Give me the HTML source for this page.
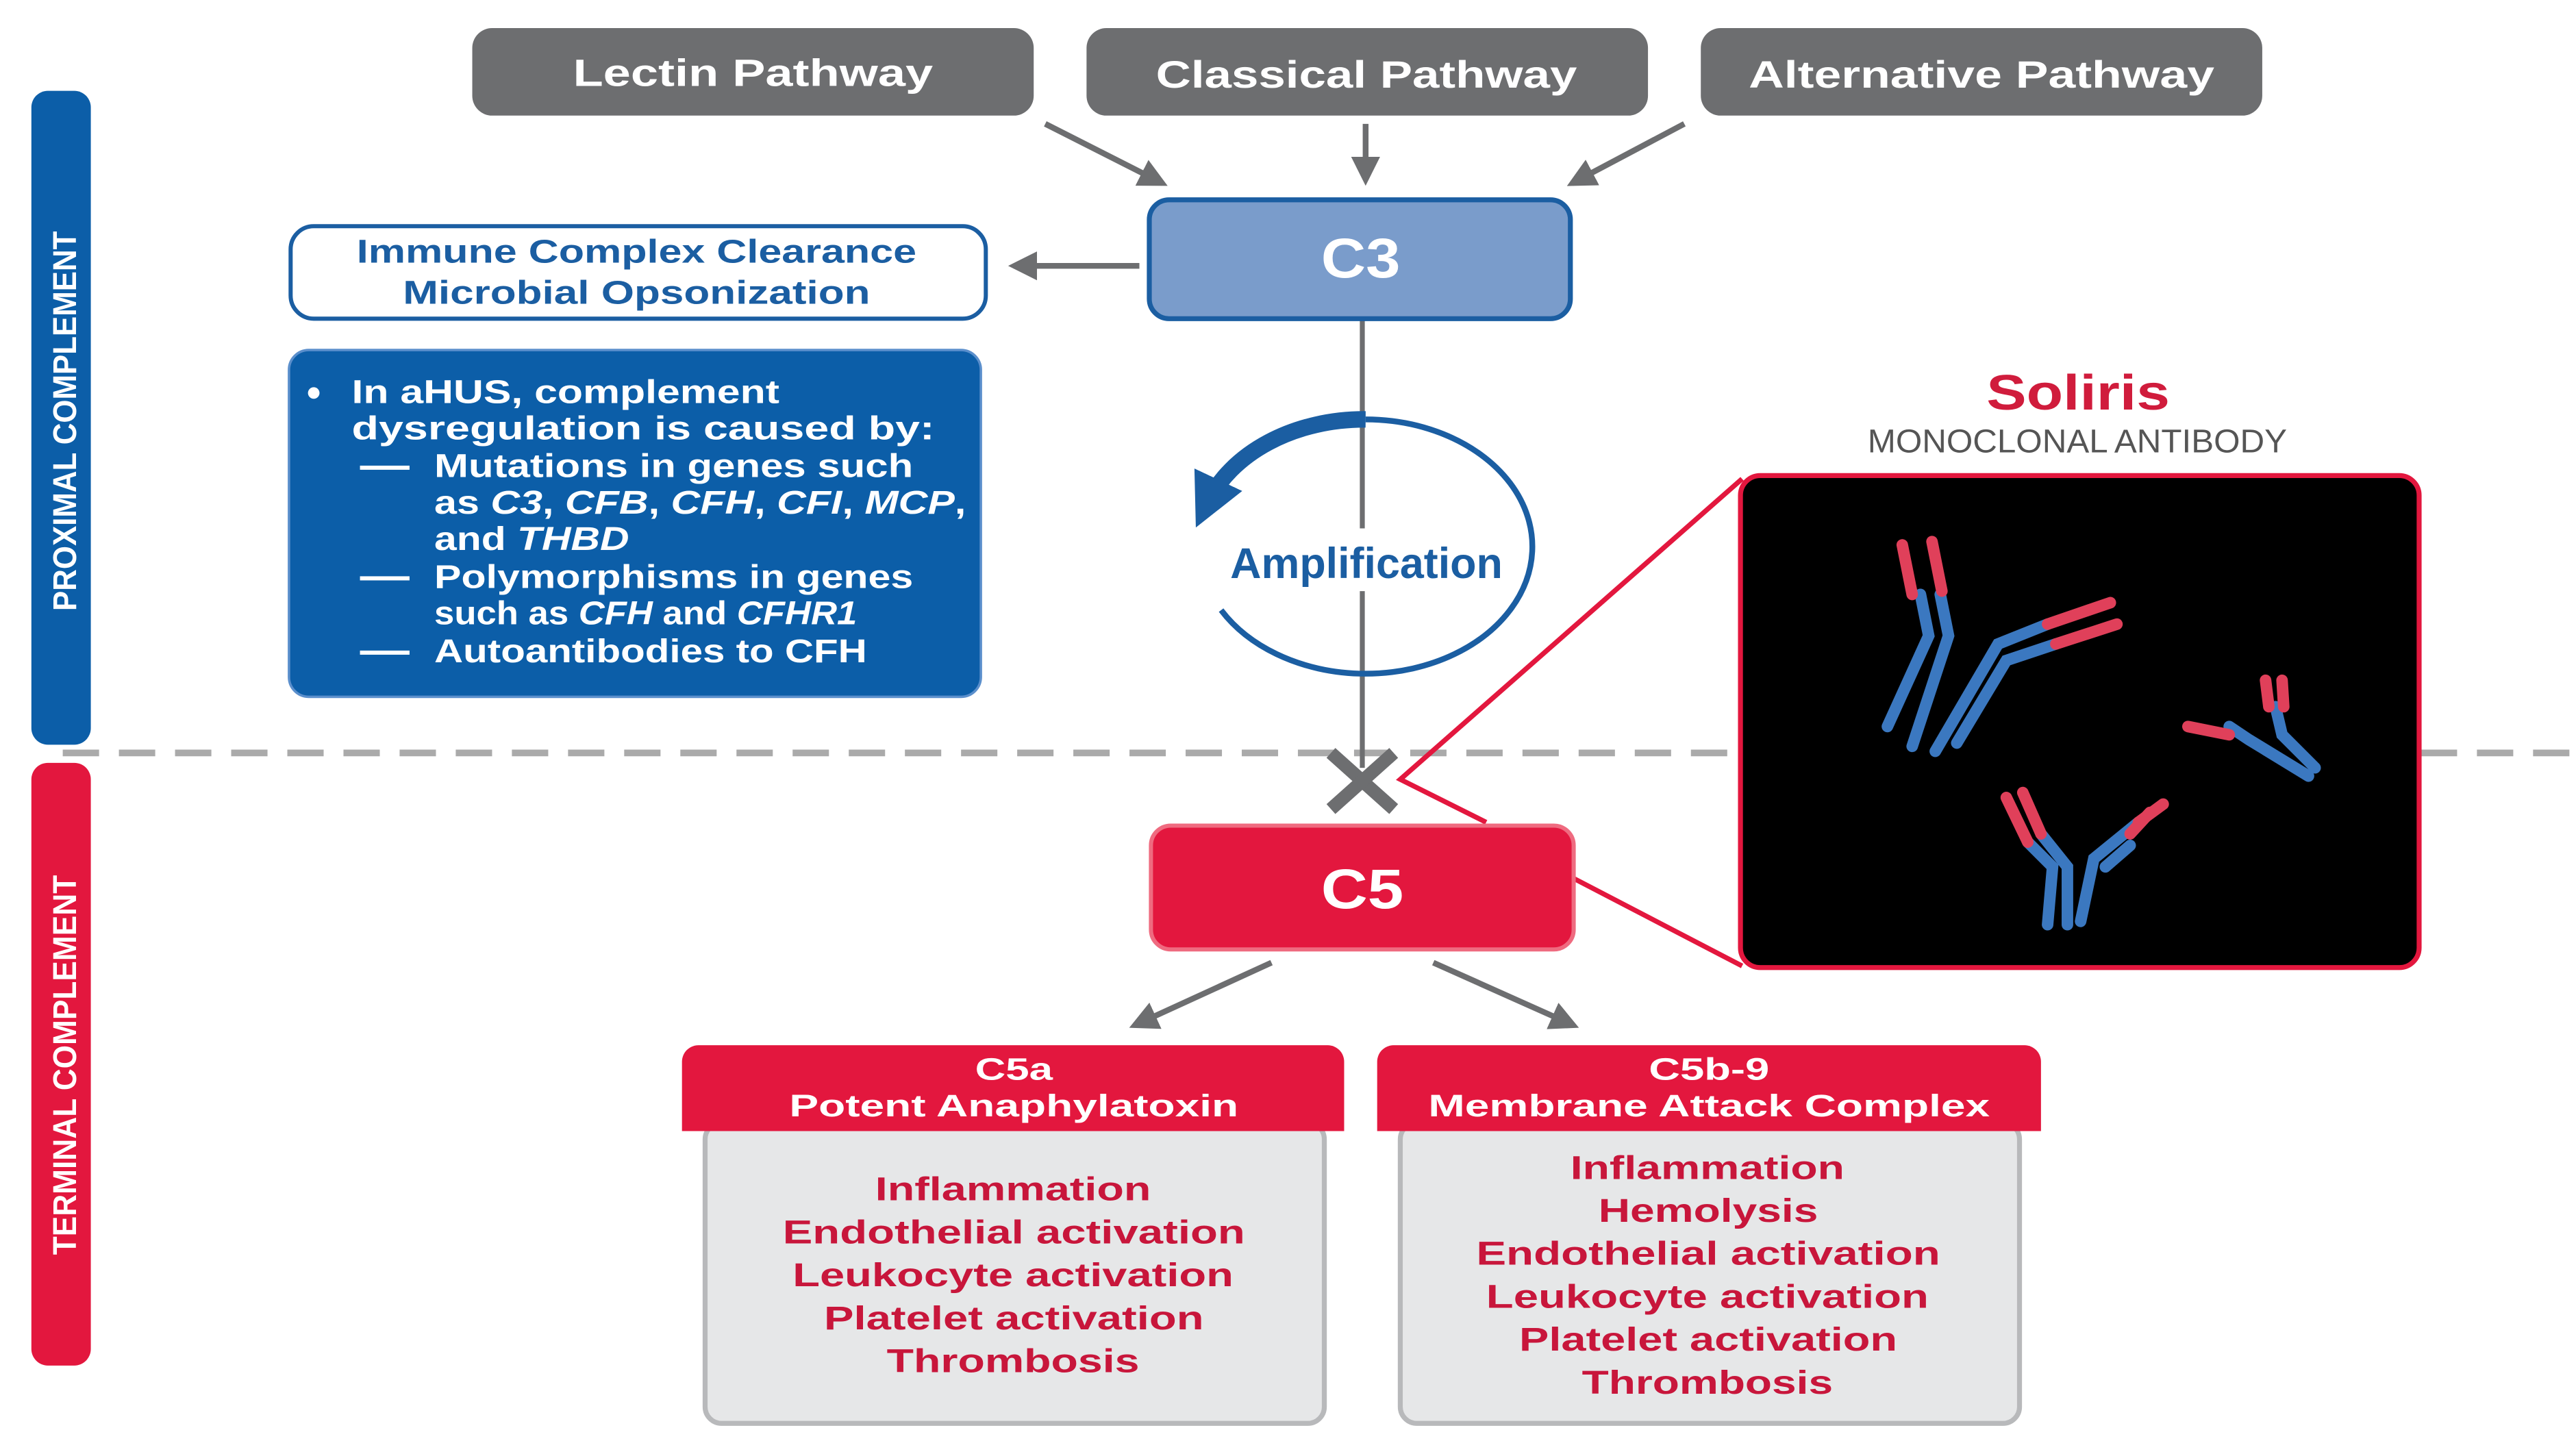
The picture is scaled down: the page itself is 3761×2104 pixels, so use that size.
<!DOCTYPE html>
<html><head><meta charset="utf-8"><style>
html,body{margin:0;padding:0;background:#fff;width:3761px;height:2104px;overflow:hidden}
svg{display:block}
text{font-family:"Liberation Sans",sans-serif;font-weight:bold}
</style></head><body>
<svg width="3761" height="2104" viewBox="0 0 1560 872.7" xmlns="http://www.w3.org/2000/svg">
<defs>
<marker id="ah" viewBox="0 0 10 10" refX="8" refY="5" markerWidth="5" markerHeight="5" orient="auto"><path d="M0,0 L10,5 L0,10 z" fill="#6d6e70"/></marker>
<marker id="bh" viewBox="0 0 10 10" refX="5" refY="5" markerWidth="3.2" markerHeight="3.2" orient="auto"><path d="M0,0 L10,5 L0,10 z" fill="#1b5ea2"/></marker>
</defs>
<rect width="1560" height="873" fill="#fff"/>
<!-- side bars -->
<rect x="19" y="55" width="36" height="396" rx="10" fill="#0c5ea8"/>
<rect x="19" y="462" width="36" height="365" rx="10" fill="#e3173e"/>
<text transform="translate(46,255) rotate(-90)" text-anchor="middle" font-size="20" fill="#fff" textLength="230" lengthAdjust="spacingAndGlyphs">PROXIMAL COMPLEMENT</text>
<text transform="translate(46,645) rotate(-90)" text-anchor="middle" font-size="20" fill="#fff" textLength="230" lengthAdjust="spacingAndGlyphs">TERMINAL COMPLEMENT</text>
<!-- dashed line -->
<line x1="38" y1="456" x2="1560" y2="456" stroke="#aaa" stroke-width="4" stroke-dasharray="22 12"/>
<!-- pathway boxes -->
<rect x="286" y="17" width="340" height="53" rx="12" fill="#6d6e70"/>
<rect x="658" y="17" width="340" height="53" rx="12" fill="#6d6e70"/>
<rect x="1030" y="17" width="340" height="53" rx="12" fill="#6d6e70"/>
<text x="347" y="52" font-size="23" fill="#fff" textLength="218" lengthAdjust="spacingAndGlyphs">Lectin Pathway</text>
<text x="700" y="53" font-size="23" fill="#fff" textLength="255" lengthAdjust="spacingAndGlyphs">Classical Pathway</text>
<text x="1059" y="53" font-size="23" fill="#fff" textLength="282" lengthAdjust="spacingAndGlyphs">Alternative Pathway</text>
<g stroke="#6d6e70" stroke-width="3.5" fill="none">
<line x1="633" y1="75" x2="704" y2="111" marker-end="url(#ah)"/>
<line x1="827" y1="75" x2="827" y2="109" marker-end="url(#ah)"/>
<line x1="1020" y1="75" x2="952" y2="111" marker-end="url(#ah)"/>
<line x1="690" y1="161" x2="614" y2="161" marker-end="url(#ah)"/>
<line x1="825" y1="194" x2="825" y2="465" stroke-width="3"/>
<line x1="770" y1="583" x2="687" y2="621" marker-end="url(#ah)"/>
<line x1="868" y1="583" x2="953" y2="621" marker-end="url(#ah)"/>
</g>
<!-- C3 -->
<rect x="696" y="121" width="255" height="72" rx="12" fill="#7a9ccb" stroke="#1b5ea2" stroke-width="3"/>
<text x="824" y="168" text-anchor="middle" font-size="34" fill="#fff" textLength="48" lengthAdjust="spacingAndGlyphs">C3</text>
<!-- immune box -->
<rect x="176" y="137" width="421" height="56" rx="14" fill="#fff" stroke="#1b5ea2" stroke-width="2.5"/>
<text x="216" y="159" font-size="20" fill="#1b5ea2" textLength="339" lengthAdjust="spacingAndGlyphs">Immune Complex Clearance</text>
<text x="244" y="184" font-size="20" fill="#1b5ea2" textLength="283" lengthAdjust="spacingAndGlyphs">Microbial Opsonization</text>
<!-- blue box -->
<rect x="175" y="212" width="419" height="210" rx="12" fill="#0c5ea8" stroke="#5b8fcc" stroke-width="1.5"/>
<g font-size="20" fill="#fff">
<circle cx="190" cy="238" r="3.5" fill="#fff"/>
<text x="213" y="244" textLength="259" lengthAdjust="spacingAndGlyphs">In aHUS, complement</text>
<text x="213" y="266" textLength="353" lengthAdjust="spacingAndGlyphs">dysregulation is caused by:</text>
<rect x="218" y="282" width="30" height="2.5"/>
<rect x="218" y="349" width="30" height="2.5"/>
<rect x="218" y="394" width="30" height="2.5"/>
<text x="263" y="289" textLength="290" lengthAdjust="spacingAndGlyphs">Mutations in genes such</text>
<text x="263" y="311" textLength="322" lengthAdjust="spacingAndGlyphs">as <tspan font-style="italic">C3</tspan>, <tspan font-style="italic">CFB</tspan>, <tspan font-style="italic">CFH</tspan>, <tspan font-style="italic">CFI</tspan>, <tspan font-style="italic">MCP</tspan>,</text>
<text x="263" y="333" textLength="118" lengthAdjust="spacingAndGlyphs">and <tspan font-style="italic">THBD</tspan></text>
<text x="263" y="356" textLength="290" lengthAdjust="spacingAndGlyphs">Polymorphisms in genes</text>
<text x="263" y="378" textLength="256" lengthAdjust="spacingAndGlyphs">such as <tspan font-style="italic">CFH</tspan> and <tspan font-style="italic">CFHR1</tspan></text>
<text x="263" y="401" textLength="262" lengthAdjust="spacingAndGlyphs">Autoantibodies to CFH</text>
</g>
<!-- amplification -->
<path d="M827,254 A101,77 0 1 1 739.5,369.5" fill="none" stroke="#1b5ea2" stroke-width="3.5"/>
<path d="M827,254 A101,77 0 0 0 731,305" fill="none" stroke="#1b5ea2" stroke-width="10" marker-end="url(#bh)"/>
<rect x="742" y="320" width="172" height="38" fill="#fff"/>
<text x="745" y="350" font-size="26" fill="#1b5ea2" textLength="165" lengthAdjust="spacingAndGlyphs">Amplification</text>
<!-- X -->
<g stroke="#6d6e70" stroke-width="8" stroke-linecap="butt">
<line x1="806" y1="456" x2="844" y2="490"/><line x1="844" y1="456" x2="806" y2="490"/>
</g>
<!-- red connectors -->
<g stroke="#e3173e" stroke-width="3" fill="none">
<polyline points="1055,290 848,472 900,498"/>
<line x1="953" y1="532" x2="1055" y2="585"/>
</g>
<!-- C5 -->
<rect x="697" y="500" width="256" height="75" rx="12" fill="#e3173e" stroke="#ef6b80" stroke-width="2.5"/>
<text x="825" y="550" text-anchor="middle" font-size="34" fill="#fff" textLength="50" lengthAdjust="spacingAndGlyphs">C5</text>
<!-- Soliris -->
<text x="1203" y="248" font-size="30" fill="#d01c3c" textLength="111" lengthAdjust="spacingAndGlyphs">Soliris</text>
<text x="1131" y="274" font-size="20" style="font-weight:normal" fill="#555" textLength="254" lengthAdjust="spacingAndGlyphs">MONOCLONAL ANTIBODY</text>
<rect x="1054" y="288" width="411" height="298" rx="12" fill="#000" stroke="#e3173e" stroke-width="3"/>
<g fill="none" stroke-linecap="round">
<g stroke="#3b78c0" stroke-width="7">
<path d="M1163,360 L1168,385 L1143,440"/><path d="M1175,360 L1180,385 L1158,452"/>
<path d="M1240,378 L1210,390 L1172,455"/><path d="M1245,390 L1215,400 L1185,450"/>
<path d="M1350,440 L1362,448 L1398,470"/><path d="M1378,428 L1382,445 L1402,465"/>
<path d="M1228,510 L1243,525 L1240,560"/><path d="M1236,505 L1252,525 L1252,560"/>
<path d="M1295,498 L1268,520 L1260,558"/><path d="M1290,512 L1275,525"/>
</g>
<g stroke="#e0405a" stroke-width="7">
<path d="M1152,330 L1158,360"/><path d="M1170,328 L1176,358"/>
<path d="M1278,365 L1240,378"/><path d="M1282,378 L1245,390"/>
<path d="M1325,440 L1350,445"/><path d="M1372,412 L1374,428"/><path d="M1382,412 L1383,428"/>
<path d="M1215,483 L1228,510"/><path d="M1225,480 L1236,505"/>
<path d="M1310,487 L1295,498"/><path d="M1302,492 L1290,505"/>
</g>
</g>
<!-- C5a box -->
<rect x="427" y="680" width="375" height="182" rx="10" fill="#e6e7e8" stroke="#b8b9bb" stroke-width="3"/>
<path d="M413,685 V643 a10,10 0 0 1 10,-10 H804 a10,10 0 0 1 10,10 V685 Z" fill="#e3173e"/>
<text x="614" y="654" text-anchor="middle" font-size="19" fill="#fff" textLength="47" lengthAdjust="spacingAndGlyphs">C5a</text>
<text x="478" y="676" font-size="19" fill="#fff" textLength="272" lengthAdjust="spacingAndGlyphs">Potent Anaphylatoxin</text>
<g font-size="20" fill="#c8163b">
<text x="530" y="727" textLength="167" lengthAdjust="spacingAndGlyphs">Inflammation</text>
<text x="474" y="753" textLength="280" lengthAdjust="spacingAndGlyphs">Endothelial activation</text>
<text x="480" y="779" textLength="267" lengthAdjust="spacingAndGlyphs">Leukocyte activation</text>
<text x="499" y="805" textLength="230" lengthAdjust="spacingAndGlyphs">Platelet activation</text>
<text x="537" y="831" textLength="153" lengthAdjust="spacingAndGlyphs">Thrombosis</text>
</g>
<!-- C5b-9 box -->
<rect x="848" y="680" width="375" height="182" rx="10" fill="#e6e7e8" stroke="#b8b9bb" stroke-width="3"/>
<path d="M834,685 V643 a10,10 0 0 1 10,-10 H1226 a10,10 0 0 1 10,10 V685 Z" fill="#e3173e"/>
<text x="1035" y="654" text-anchor="middle" font-size="19" fill="#fff" textLength="73" lengthAdjust="spacingAndGlyphs">C5b-9</text>
<text x="865" y="676" font-size="19" fill="#fff" textLength="340" lengthAdjust="spacingAndGlyphs">Membrane Attack Complex</text>
<g font-size="20" fill="#c8163b">
<text x="951" y="714" textLength="166" lengthAdjust="spacingAndGlyphs">Inflammation</text>
<text x="968" y="740" textLength="133" lengthAdjust="spacingAndGlyphs">Hemolysis</text>
<text x="894" y="766" textLength="281" lengthAdjust="spacingAndGlyphs">Endothelial activation</text>
<text x="900" y="792" textLength="268" lengthAdjust="spacingAndGlyphs">Leukocyte activation</text>
<text x="920" y="818" textLength="229" lengthAdjust="spacingAndGlyphs">Platelet activation</text>
<text x="958" y="844" textLength="152" lengthAdjust="spacingAndGlyphs">Thrombosis</text>
</g>
</svg>
</body></html>
